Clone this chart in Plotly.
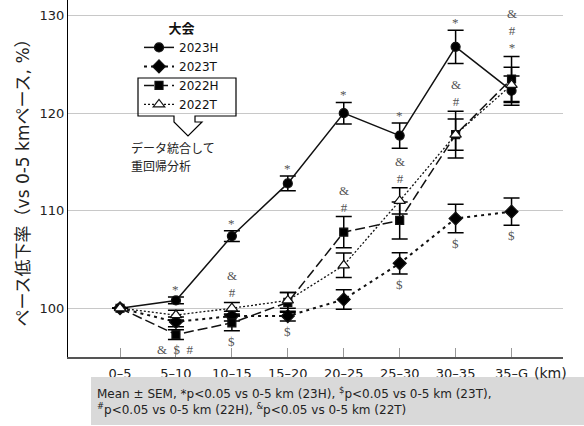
import plotly.graph_objects as go

# ---------------- data ----------------
categories = ["0–5", "5–10", "10–15", "15–20", "20–25", "25–30", "30–35", "35–G"]

mean_2023H = [100.0, 100.8, 107.4, 112.8, 120.0, 117.7, 126.8, 122.3]
sem_2023H = [0.0, 0.35, 0.55, 0.75, 1.1, 1.3, 1.7, 1.5]

mean_2023T = [100.0, 98.6, 99.2, 99.2, 100.9, 104.6, 109.2, 109.9]
sem_2023T = [0.0, 0.5, 0.5, 0.5, 1.0, 1.1, 1.45, 1.4]

mean_2022H = [100.0, 97.3, 98.5, 100.6, 107.8, 109.0, 117.8, 123.5]
sem_2022H = [0.0, 0.5, 0.8, 1.0, 1.6, 1.9, 2.4, 2.3]

mean_2022T = [100.0, 99.3, 100.0, 100.8, 104.4, 111.0, 117.8, 122.9]
sem_2022T = [0.0, 0.5, 0.6, 0.8, 1.25, 1.35, 1.6, 1.8]

# significance labels
sig_23H_above = ["", "*", "*", "*", "*", "*", "*", ""]
sig_22_above = ["", "", "&<br>#", "", "&<br>#", "&<br>#", "&<br>#", "&<br>#<br>*"]
sig_below = ["", "&\u2002$\u2002#", "$", "$", "", "$", "$", "$"]

callout_lines = ["データ統合して", "重回帰分析"]

# ---------------- figure ----------------
FONT = "DejaVu Sans, Noto Sans CJK JP, sans-serif"
SIGFONT = "Liberation Serif, DejaVu Serif, serif"
W, H = 584, 426
ML, MR, MT, MB = 68, 21, 0, 69
PW, PH = W - ML - MR, H - MT - MB


def px(x):
    return (x - ML) / PW


def py(y):
    return 1 - (y - MT) / PH


fig = go.Figure()

series = [
    # name, mean, sem, dash, symbol, size, marker fill, line width
    ("2023H", mean_2023H, sem_2023H, "solid", "circle", 9, "#000000", 1.5),
    ("2023T", mean_2023T, sem_2023T, "3px,4px", "diamond", 10, "#000000", 2),
    ("2022H", mean_2022H, sem_2022H, "10px,4px", "square", 8, "#000000", 1.5),
    ("2022T", mean_2022T, sem_2022T, "2px,2px", "triangle-up", 10, "#ffffff", 1.3),
]

for name, m, s, dash, sym, size, fill, lw in series:
    fig.add_trace(go.Scatter(
        x=categories, y=m, name=name, mode="lines+markers",
        line=dict(color="#111111", width=lw, dash=dash),
        marker=dict(symbol=sym, size=size, color=fill,
                    line=dict(color="#111111", width=1.2)),
        error_y=dict(type="data", array=s, visible=True, color="#000000",
                     thickness=1.5, width=8),
    ))

sigfont = dict(size=13, color="#555555", family=SIGFONT)

# significance annotations
for i, c in enumerate(categories):
    tops = [mean_2023H[i] + sem_2023H[i], mean_2023T[i] + sem_2023T[i],
            mean_2022H[i] + sem_2022H[i], mean_2022T[i] + sem_2022T[i]]
    bots = [mean_2023H[i] - sem_2023H[i], mean_2023T[i] - sem_2023T[i],
            mean_2022H[i] - sem_2022H[i], mean_2022T[i] - sem_2022T[i]]
    if sig_23H_above[i]:
        fig.add_annotation(x=c, y=mean_2023H[i] + sem_2023H[i], text=sig_23H_above[i],
                           showarrow=False, yanchor="bottom", yshift=-2, font=sigfont)
    if sig_22_above[i]:
        top22 = max(tops[2], tops[3]) if i < 7 else max(tops)
        fig.add_annotation(x=c, y=top22, text=sig_22_above[i],
                           showarrow=False, yanchor="bottom", yshift=0, font=sigfont)
    if sig_below[i]:
        fig.add_annotation(x=c, y=min(bots), text=sig_below[i],
                           showarrow=False, yanchor="top", yshift=-1, font=sigfont)

# callout box with arrow (around the 2022 legend entries)
BT, BB = 78, 116
path = (f"M{px(138)},{py(BT)} L{px(236)},{py(BT)} L{px(236)},{py(BB)} "
        f"L{px(195)},{py(BB)} L{px(195)},{py(BB+6)} L{px(202)},{py(BB+6)} "
        f"L{px(188)},{py(BB+20)} L{px(174)},{py(BB+6)} L{px(174)},{py(BB)} "
        f"L{px(138)},{py(BB)} Z")
fig.add_shape(type="path", xref="paper", yref="paper", path=path,
              line=dict(color="#000000", width=1.2), fillcolor="rgba(0,0,0,0)")

for k, line_text in enumerate(callout_lines):
    fig.add_annotation(xref="paper", yref="paper", x=px(129), y=py(BB + 31 + 18 * k),
                       text=line_text,
                       showarrow=False, xanchor="left", yanchor="middle", align="left",
                       font=dict(size=12, color="#222222", family="Noto Sans CJK JP"))

# footnote box
fig.add_shape(type="rect", xref="paper", yref="paper",
              x0=px(91), x1=px(584), y0=py(377), y1=py(425),
              line=dict(width=0), fillcolor="#d9d9d9")
fig.add_annotation(xref="paper", yref="paper", x=px(95), y=py(401),
                   text=("Mean ± SEM, *p<0.05 vs 0-5 km (23H), <sup>$</sup>p<0.05 vs 0-5 km (23T),<br>"
                         "<sup>#</sup>p<0.05 vs 0-5 km (22H), <sup>&</sup>p<0.05 vs 0-5 km (22T)"),
                   showarrow=False, xanchor="left", yanchor="middle", align="left",
                   font=dict(size=12, color="#222222", family=FONT))

# (km)
fig.add_annotation(xref="paper", yref="paper", x=px(532), y=py(373), text="(km)",
                   showarrow=False, xanchor="left", yanchor="middle",
                   font=dict(size=14, color="#222222", family=FONT))

fig.update_layout(
    width=W, height=H,
    margin=dict(l=ML, r=MR, t=MT, b=MB, pad=0),
    paper_bgcolor="white", plot_bgcolor="white",
    font=dict(family=FONT, color="#222222"),
    showlegend=True,
    legend=dict(
        x=px(139), y=py(16), xanchor="left", yanchor="top",
        bgcolor="rgba(0,0,0,0)",
        title=dict(text="<b>大会</b>", side="top center",
                   font=dict(size=13, family="Noto Sans CJK JP", color="#111111")),
        font=dict(size=12, family=FONT, color="#111111"),
        itemwidth=30, tracegroupgap=0,
    ),
    xaxis=dict(
        range=[-0.93, 7.92], showgrid=False,
        showline=True, linecolor="#555555", linewidth=1.5,
        ticks="inside", ticklen=9, tickcolor="#999999", tickwidth=1,
        ticklabelstandoff=4,
        tickfont=dict(size=13, family=FONT, color="#222222"),
        zeroline=False,
    ),
    yaxis=dict(
        range=[95, 131.6], tickvals=[100, 110, 120, 130], showgrid=True,
        gridcolor="#c8c8c8", gridwidth=1,
        showline=True, linecolor="#000000", linewidth=1,
        ticks="", tickfont=dict(size=13, family=FONT, color="#222222"),
        title=dict(text="ペース低下率（vs 0-5 kmペース, %）", standoff=5,
                   font=dict(size=17, family=FONT, color="#222222")),
        zeroline=False,
    ),
)

fig.write_html("out.html")
